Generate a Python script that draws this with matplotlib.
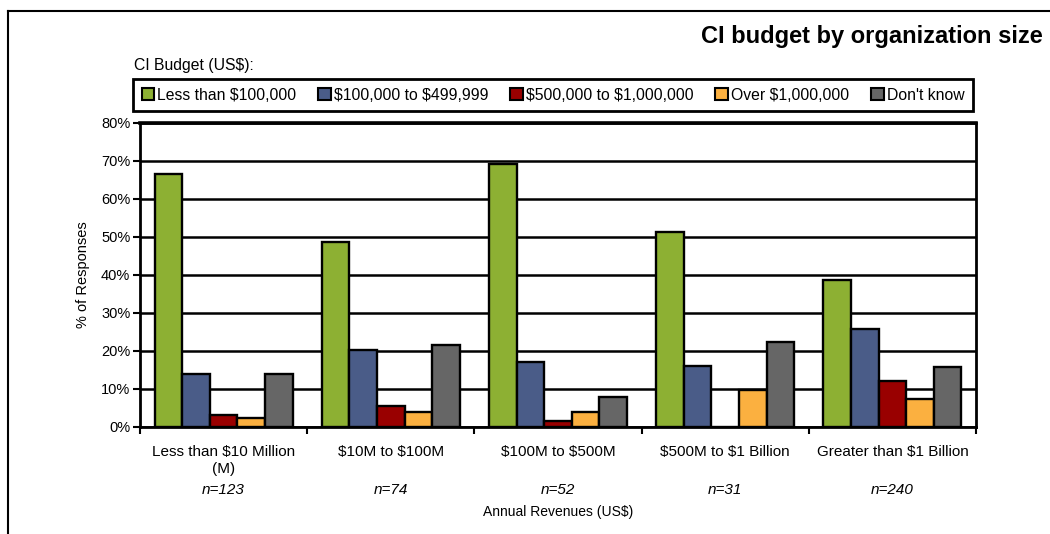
import numpy as np
import matplotlib.pyplot as plt
from matplotlib.lines import Line2D

plt.rcParams['font.family'] = ['Liberation Sans', 'DejaVu Sans']

# Revenue bands and respondents per band.
categories = ['Less than $10 Million\n(M)', '$10M to $100M', '$100M to $500M',
              '$500M to $1 Billion', 'Greater than $1 Billion']
sample_sizes = ['n=123', 'n=74', 'n=52', 'n=31', 'n=240']

# CI budget buckets (% of responses).
budget_labels = ['Less than $100,000', '$100,000 to $499,999',
                 '$500,000 to $1,000,000', 'Over $1,000,000', "Don't know"]
less_100k = [66.6, 48.6, 69.2, 51.4, 38.6]
k100_to_499k = [13.9, 20.3, 17.2, 16.1, 25.7]
k500_to_1m = [3.2, 5.5, 1.7, 0.0, 12.1]
over_1m = [2.3, 4.0, 3.9, 9.7, 7.5]
dont_know = [13.9, 21.5, 7.8, 22.5, 15.9]

series = [less_100k, k100_to_499k, k500_to_1m, over_1m, dont_know]
colors = ['#8db033', '#4a5c88', '#990000', '#fbb040', '#666666']


def esc(s):
    # keep "$" literal instead of mathtext
    return s.replace('$', r'\$')


W, H = 1050, 534
fig = plt.figure(figsize=(W / 100, H / 100), dpi=100)
ax = fig.add_axes([140 / W, 1 - 427 / H, 836 / W, 304 / H])

x = np.arange(len(categories))
bw = 0.165
for i, (vals, c, lab) in enumerate(zip(series, colors, budget_labels)):
    ax.bar(x + (i - 2) * bw, vals, bw, color=c, edgecolor='black',
           linewidth=1.7, label=esc(lab), zorder=3)

# y axis
ax.set_ylim(0, 80)
ax.set_yticks(range(0, 81, 10))
ax.set_yticklabels(['%d%%' % v for v in range(0, 81, 10)], fontsize=10.5)
ax.yaxis.grid(True, color='black', linewidth=1.8, zorder=0)
ax.set_axisbelow(True)
ax.tick_params(axis='y', direction='out', length=5, width=1.5, pad=2)

# x axis: ticks on band boundaries, labels in the middle
ax.set_xlim(-0.5, len(categories) - 0.5)
ax.set_xticks(np.arange(-0.5, len(categories), 1))
ax.set_xticklabels([])
ax.set_xticks(x, minor=True)
ax.set_xticklabels([esc(c) for c in categories], minor=True, fontsize=11,
                   linespacing=1.3)
ax.tick_params(axis='x', which='major', direction='out', length=5, width=1.5)
ax.tick_params(axis='x', which='minor', length=0, pad=13)

for side, lw in [('left', 2), ('bottom', 2), ('right', 2), ('top', 2.6)]:
    ax.spines[side].set_linewidth(lw)
    ax.spines[side].set_color('black')

for i, n in enumerate(sample_sizes):
    ax.annotate(n, xy=(i, 0), xycoords=('data', 'axes fraction'),
                xytext=(0, -63), textcoords='offset pixels',
                ha='center', va='center', fontsize=11, style='italic')

fig.text(558 / W, 1 - 512 / H, esc('Annual Revenues (US$)'), ha='center',
         va='center', fontsize=10)
fig.text(83 / W, 1 - 275 / H, '% of Responses', rotation=90, ha='center',
         va='center', fontsize=10.5)

# title and legend
fig.text(1043 / W, 1 - 43 / H, 'CI budget by organization size', ha='right',
         va='baseline', fontsize=17, fontweight='bold')
fig.text(134 / W, 1 - 70 / H, esc('CI Budget (US$):'), ha='left', va='baseline',
         fontsize=11.3)
leg = fig.legend(loc='center', bbox_to_anchor=(133 / W, 1 - 113 / H, 840 / W, 36 / H),
                 mode='expand', ncol=5, fontsize=11.3, frameon=True,
                 framealpha=1, fancybox=False, handlelength=0.8,
                 handleheight=0.8, handletextpad=0.2, borderpad=0.55,
                 borderaxespad=0)
leg.get_frame().set_edgecolor('black')
leg.get_frame().set_linewidth(2)
for h in leg.legend_handles:
    h.set_linewidth(1.5)

# outer frame
fig.add_artist(Line2D([8 / W, 1], [1 - 11 / H] * 2, transform=fig.transFigure,
                      color='black', linewidth=1.5))
fig.add_artist(Line2D([8 / W] * 2, [0, 1 - 11 / H], transform=fig.transFigure,
                      color='black', linewidth=1.5))

fig.savefig('out.png', dpi=100)
